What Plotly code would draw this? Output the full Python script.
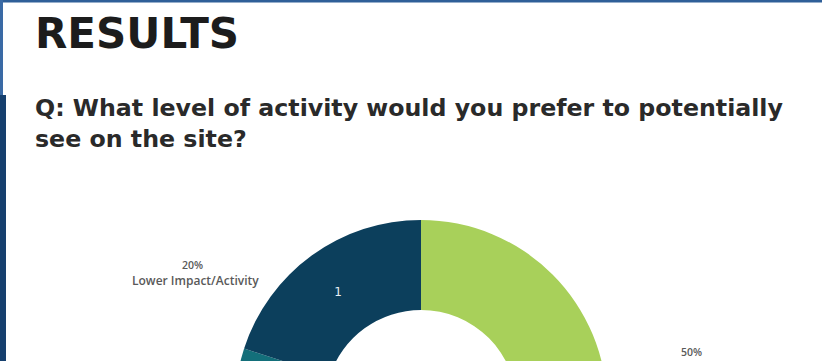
import plotly.graph_objects as go

# ---- data ----
categories = ["Moderate Impact/Activity", "Higher Impact/Activity", "Lower Impact/Activity"]
percents = [50, 30, 20]
slice_labels = ["3", "2", "1"]
colors = ["#a8d05a", "#136f7a", "#0c3f5c"]

title_text = "RESULTS"
question_lines = ["Q: What level of activity would you prefer to potentially", "see on the site?"]

W, H = 822, 620  # figure taller than viewport: the donut is cut off at the bottom like the slide


def px(x):
    return x / W


def py(y):
    return 1 - y / H


cx, cy, R = 421, 406, 186
FONT = "DejaVu Sans"

fig = go.Figure()
fig.add_trace(go.Pie(
    labels=categories,
    values=percents,
    text=slice_labels,
    textinfo="text",
    textposition="inside",
    insidetextorientation="horizontal",
    insidetextfont=dict(color="#e8f0f4", size=12, family=FONT),
    marker=dict(colors=colors, line=dict(width=0)),
    hole=96 / 186,
    sort=False,
    direction="clockwise",
    rotation=0,
    showlegend=False,
    domain=dict(x=[px(cx - R), px(cx + R)], y=[py(cy + R), py(cy - R)]),
    hoverinfo="label+percent",
))

annotations = [
    dict(text=title_text, x=px(33), y=py(34), xanchor="left", yanchor="middle",
         font=dict(family=FONT, size=42, color="#1c1c1c", weight="bold")),
    dict(text=question_lines[0], x=px(33), y=py(108), xanchor="left", yanchor="middle",
         font=dict(family=FONT, size=23.7, color="#2a2a2a", weight="bold")),
    dict(text=question_lines[1], x=px(33), y=py(139), xanchor="left", yanchor="middle",
         font=dict(family=FONT, size=23.7, color="#2a2a2a", weight="bold")),
    dict(text=f"{percents[2]}%", x=px(192), y=py(265), xanchor="center", yanchor="middle",
         font=dict(family="Open Sans", size=10.5, color="#595959", weight=600)),
    dict(text=categories[2], x=px(195), y=py(280), xanchor="center", yanchor="middle",
         font=dict(family="Open Sans", size=12, color="#595959", weight=600)),
    dict(text=f"{percents[0]}%", x=px(691), y=py(352), xanchor="center", yanchor="middle",
         font=dict(family="Open Sans", size=10.5, color="#595959", weight=600)),
    dict(text=categories[0], x=px(697), y=py(367), xanchor="center", yanchor="middle",
         font=dict(family="Open Sans", size=12, color="#8a8a8a", weight=600)),
]
for a in annotations:
    a.update(xref="paper", yref="paper", showarrow=False)

shapes = [
    # slide frame
    dict(type="rect", x0=0, x1=1, y0=py(2.5), y1=1, fillcolor="#2f5f98", line=dict(width=0)),
    dict(type="rect", x0=0, x1=px(3), y0=py(100), y1=1, fillcolor="#3a6aa5", line=dict(width=0)),
    dict(type="rect", x0=0, x1=px(6), y0=0, y1=py(95), fillcolor="#16406e", line=dict(width=0)),
]
for s in shapes:
    s.update(xref="paper", yref="paper", layer="above")

fig.update_layout(
    width=W, height=H,
    margin=dict(l=0, r=0, t=0, b=0),
    paper_bgcolor="white", plot_bgcolor="white",
    annotations=annotations,
    shapes=shapes,
)

fig.write_html(
    "out.html",
    config={"displayModeBar": False},
    post_script="document.documentElement.style.overflow='hidden';document.body.style.overflow='hidden';document.body.style.margin='0';",
)
